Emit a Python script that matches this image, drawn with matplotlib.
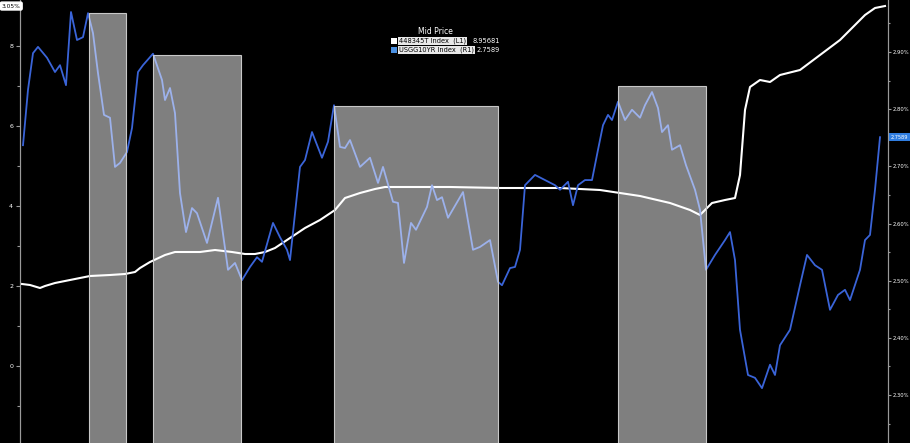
import matplotlib.pyplot as plt
from matplotlib.patches import Rectangle
from matplotlib.ticker import MultipleLocator

# period index (left edge of the plot = 0)
blue_t = [3, 8, 13, 18, 27, 35, 40, 46, 51, 57, 63, 68, 73, 78, 84, 90, 95, 100,
          107, 112, 118, 123, 133, 142, 145, 150, 155, 160, 166, 172, 177, 187,
          198, 208, 215, 222, 230, 237, 242, 253, 260, 267, 270, 280, 285, 292,
          302, 308, 314, 320, 325, 330, 340, 350, 358, 363, 373, 378, 384, 391,
          396, 407, 412, 417, 422, 428, 443, 453, 460, 470, 478, 482, 490, 495,
          500, 505, 515, 525, 535, 540, 548, 553, 558, 565, 572, 578, 583, 588,
          592, 598, 605, 612, 620, 625, 632, 638, 642, 648, 652, 660, 666, 675,
          680, 686, 695, 705, 710, 715, 720, 728, 735, 742, 750, 755, 760, 770,
          780, 787, 795, 802, 810, 818, 825, 830, 840, 845, 850, 855, 860]
blue_yield = [2.737, 2.834, 2.898, 2.909, 2.890, 2.865, 2.877, 2.842, 2.970,
              2.921, 2.926, 2.968, 2.933, 2.863, 2.790, 2.785, 2.699, 2.706,
              2.725, 2.767, 2.865, 2.877, 2.897, 2.851, 2.816, 2.837, 2.793,
              2.653, 2.585, 2.627, 2.618, 2.566, 2.645, 2.519, 2.531, 2.501,
              2.524, 2.541, 2.533, 2.601, 2.576, 2.554, 2.536, 2.699, 2.711,
              2.760, 2.715, 2.743, 2.807, 2.734, 2.732, 2.746, 2.699, 2.715,
              2.671, 2.699, 2.638, 2.636, 2.531, 2.601, 2.589, 2.629, 2.667,
              2.641, 2.646, 2.610, 2.655, 2.554, 2.559, 2.571, 2.498, 2.492,
              2.522, 2.524, 2.554, 2.667, 2.685, 2.676, 2.667, 2.659, 2.673,
              2.632, 2.667, 2.676, 2.676, 2.729, 2.772, 2.790, 2.781, 2.813,
              2.781, 2.799, 2.785, 2.807, 2.830, 2.802, 2.760, 2.772, 2.729,
              2.737, 2.702, 2.659, 2.624, 2.519, 2.545, 2.571, 2.585, 2.536,
              2.414, 2.335, 2.330, 2.312, 2.353, 2.335, 2.387, 2.414, 2.492,
              2.545, 2.527, 2.519, 2.449, 2.475, 2.484, 2.466, 2.519, 2.571,
              2.580, 2.659, 2.751]

white_t = [2, 10, 20, 25, 35, 50, 70, 90, 105, 115, 120, 130, 145, 155, 180,
           195, 212, 225, 235, 245, 255, 270, 285, 300, 315, 325, 340, 355,
           365, 380, 430, 480, 540, 580, 620, 650, 670, 680, 685, 692, 705,
           715, 720, 725, 730, 740, 750, 760, 780, 800, 820, 835, 845, 855, 865]
white_index = [2.05, 2.025, 1.95, 2.0, 2.075, 2.15, 2.25, 2.275, 2.30, 2.35,
               2.45, 2.60, 2.775, 2.85, 2.85, 2.90, 2.85, 2.80, 2.80, 2.85,
               2.95, 3.20, 3.45, 3.65, 3.90, 4.20, 4.325, 4.425, 4.475, 4.475,
               4.475, 4.45, 4.45, 4.40, 4.25, 4.075, 3.90, 3.775, 3.90, 4.075,
               4.15, 4.20, 4.775, 6.40, 6.975, 7.15, 7.10, 7.275, 7.40, 7.775,
               8.15, 8.525, 8.775, 8.95, 9.0]

# shaded periods (in right-axis units for the top edge)
shade_start = [69, 133, 314, 598]
shade_end = [106, 221, 478, 686]
shade_top = [2.968, 2.895, 2.806, 2.841]

left_ticks = [0, 2, 4, 6, 8]
right_ticks = [2.3, 2.4, 2.5, 2.6, 2.7, 2.8, 2.9]
last_yield_label = "2.7589"

BLUE = "#3a64d8"
GRID = "#9a9a9a"

fig = plt.figure(figsize=(9.1, 4.43), dpi=100, facecolor="black")
ax = fig.add_axes([20 / 910, 0, 868 / 910, 1])
ax.set_facecolor("black")
ax2 = ax.twinx()

ax.plot(white_t, white_index, color="white", lw=1.5, zorder=3)
ax2.plot(blue_t, blue_yield, color=BLUE, lw=1.3, zorder=3)

for s, e, top in zip(shade_start, shade_end, shade_top):
    ax2.add_patch(Rectangle((s, 2.0), e - s, top - 2.0, facecolor="white",
                            alpha=0.5, edgecolor="none", zorder=5))
    ax2.add_patch(Rectangle((s, 2.0), e - s, top - 2.0, facecolor="none",
                            edgecolor="#c8c8c8", lw=0.8, zorder=6))

ax.set_xlim(0, 868)
ax.set_ylim(-1.925, 9.15)
ax2.set_ylim(2.216, 2.991)

for a in (ax, ax2):
    for side, sp in a.spines.items():
        sp.set_visible(side in ("left", "right"))
        sp.set_color(GRID)
        sp.set_linewidth(0.8)
    a.tick_params(axis="x", bottom=False, labelbottom=False)

ax.set_yticks(left_ticks)
ax.set_yticklabels([f"{v}" for v in left_ticks])
ax.yaxis.set_minor_locator(MultipleLocator(1))
ax.tick_params(axis="y", which="both", colors=GRID, labelcolor="white",
               labelsize=4.5, length=3, width=0.8, pad=2)
ax.tick_params(axis="y", which="minor", length=2)

ax2.set_yticks(right_ticks)
ax2.set_yticklabels([f"{v:.2f}%" for v in right_ticks])
ax2.yaxis.set_minor_locator(MultipleLocator(0.05))
ax2.tick_params(axis="y", which="both", colors=GRID, labelcolor="white",
                labelsize=3.8, length=2.5, width=0.8, pad=0.8)
ax2.tick_params(axis="y", which="minor", length=1.5)

# last value flag on the right axis
ax2.annotate(last_yield_label, xy=(1, blue_yield[-1]),
             xycoords=("axes fraction", "data"), xytext=(2, 0),
             textcoords="offset points", va="center", ha="left", fontsize=3.6,
             color="white", annotation_clip=False,
             bbox=dict(boxstyle="square,pad=0.3", fc="#2f7de0", ec="none"))

# unit box top left
fig.text(0.002, 0.992, "3.05%", ha="left", va="top", fontsize=4.2, color="black",
         bbox=dict(boxstyle="round,pad=0.25", fc="white", ec="white"))

# legend
fig.text(435 / 910, 1 - 31 / 443, "Mid Price", ha="center", va="center",
         fontsize=5.5, color="white")
legend_rows = [("448345T Index  (L1)", "8.95681", "white"),
               ("USGG10YR Index  (R1)", "2.7589", "#4a90e2")]
for i, (name, val, col) in enumerate(legend_rows):
    yy = 1 - (41 + 9 * i) / 443
    fig.patches.append(Rectangle((391 / 910, yy - 3 / 443), 6 / 910, 6 / 443,
                                 transform=fig.transFigure, facecolor=col,
                                 edgecolor="none"))
    fig.text(399 / 910, yy, name, ha="left", va="center", fontsize=4.8,
             color="black",
             bbox=dict(boxstyle="square,pad=0.15", fc="#e8e8e8", ec="none"))
    fig.text(500 / 910, yy, val, ha="right", va="center", fontsize=4.8,
             color="white")

fig.savefig("out.png", dpi=100, facecolor="black")
